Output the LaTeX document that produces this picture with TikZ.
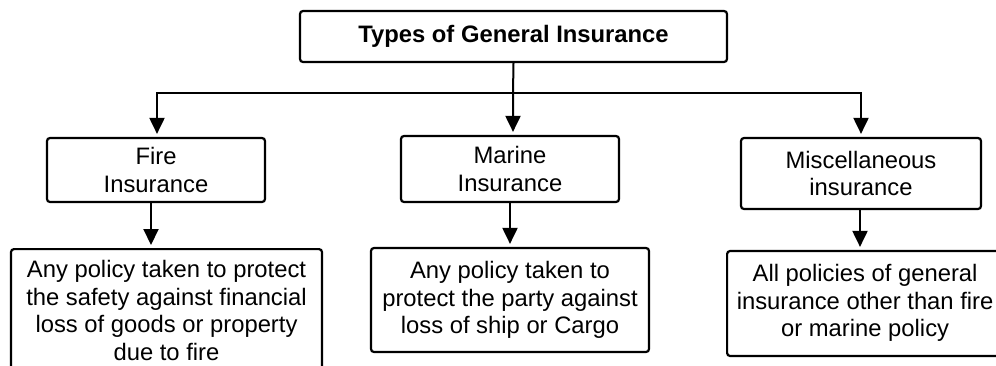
\documentclass[tikz,border=0pt]{standalone}
\usepackage{fontspec}
\setmainfont{Liberation Sans}
\usetikzlibrary{arrows.meta}
\begin{document}
\begin{tikzpicture}[x=1pt,y=-1pt,
  box/.style={draw, line width=2.2pt, rounded corners=3pt, align=center, inner sep=0pt,
              font=\fontsize{23.8}{27.5}\selectfont},
  conn/.style={line width=2pt, -{Triangle[width=15pt,length=16pt]}, shorten >=3pt}]
\useasboundingbox (0,0) rectangle (996,365);
\node[box, minimum width=427pt, minimum height=51pt, font=\fontsize{23.8}{27.5}\selectfont\bfseries] (top) at (513.5,36.5) {Types of General Insurance};
\node[box, minimum width=218pt, minimum height=64pt] (fire) at (156,170) {Fire\\Insurance};
\node[box, minimum width=218pt, minimum height=66pt] (marine) at (510,169) {Marine\\Insurance};
\node[box, minimum width=240pt, minimum height=71pt] (misc) at (861,173.5) {Miscellaneous\\insurance};
\node[box, anchor=north, minimum width=311pt, minimum height=123pt] (firedesc) at (166.5,248) {Any policy taken to protect\\the safety against financial\\loss of goods or property\\due to fire};
\node[box, minimum width=278pt, minimum height=104pt] (marinedesc) at (510,300) {Any policy taken to\\protect the party against\\loss of ship or Cargo};
\node[box, anchor=west, minimum width=320pt, minimum height=105pt] (miscdesc) at (726,303.5) {\begin{tabular}{@{}c@{}}All policies of general\\insurance other than fire\\or marine policy\end{tabular}\hspace{44pt}};
\coordinate (bar) at (513,93);
\draw[conn] (top.south) -- (bar) -- (bar |- marine.north);
\draw[conn] (bar) -| ([xshift=1pt]fire.north);
\draw[conn] (bar) -| (misc.north);
\draw[conn] ([xshift=-5pt]fire.south) -- ([xshift=-5pt]fire.south |- firedesc.north);
\draw[conn] (marine.south) -- (marine.south |- marinedesc.north);
\draw[conn] ([xshift=-1pt]misc.south) -- ([xshift=-1pt]misc.south |- miscdesc.north);
\end{tikzpicture}
\end{document}
